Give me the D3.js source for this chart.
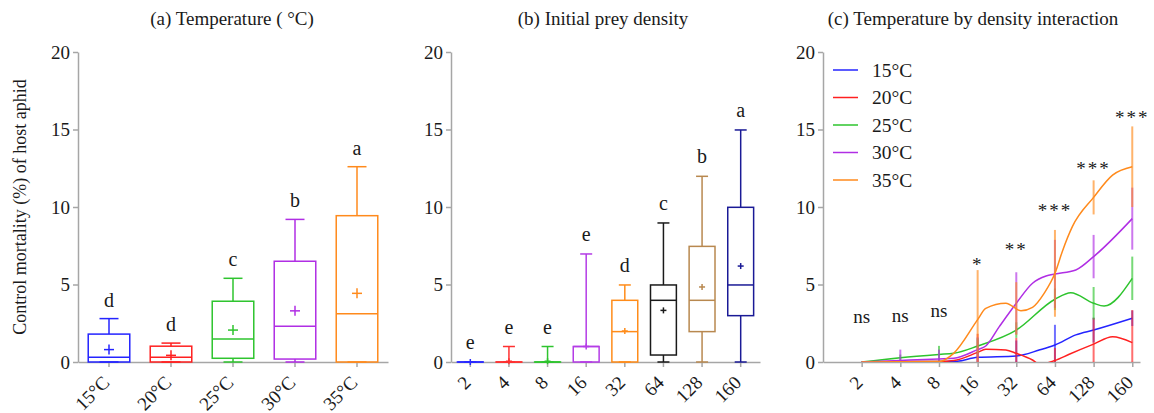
<!DOCTYPE html>
<html>
<head>
<meta charset="utf-8">
<script src="https://cdn.jsdelivr.net/npm/d3@7"></script>
<style>
  body { margin: 0; background: #fff; }
  svg text { font-family: "Times New Roman", Times, "Liberation Serif", serif; fill: #1a1a1a; }
  .axis path, .axis line { stroke: #a6a6a6; stroke-width: 1.5; }
</style>
</head>
<body>
<svg id="chart" width="1154" height="413"></svg>
<script>
const serif = '"Times New Roman", Times, "Liberation Serif", serif';

// panel (a) temperature
const tempCats = ['15°C', '20°C', '25°C', '30°C', '35°C'];
const tempColors = ['#2424ff', '#ff2020', '#2ec42e', '#b02ee4', '#ff8a1c'];
const tempLo = [0, 0, 0, 0, 0];
const tempQ1 = [0, 0, 0.24, 0.19, 0];
const tempMedian = [0.3, 0.3, 1.48, 2.3, 3.12];
const tempQ3 = [1.8, 1.02, 3.92, 6.5, 9.44];
const tempHi = [2.8, 1.22, 5.4, 9.2, 12.6];
const tempMean = [0.8, 0.43, 2.06, 3.3, 4.43];
const tempLetters = ['d', 'd', 'c', 'b', 'a'];

// panel (b) density
const densCats = ['2', '4', '8', '16', '32', '64', '128', '160'];
const densColors = ['#2a2aff', '#ff3030', '#2ec42e', '#b43ce6', '#ff8c1a', '#1a1a1a', '#b8884f', '#1a1a96'];
const densLo = [0, 0, 0, 0, 0, 0, 0, 0];
const densQ1 = [0, 0, 0, 0, 0, 0.45, 1.96, 2.99];
const densMedian = [0, 0, 0, 1, 1.96, 3.98, 3.98, 4.97];
const densQ3 = [0, 0, 0, 1, 3.98, 4.97, 7.46, 9.98];
const densHi = [0, 1, 1, 6.97, 4.97, 8.97, 11.98, 14.97];
const densMean = [0, 0.05, 0.05, 1.0, 2.0, 3.33, 4.84, 6.19];
const densLetters = ['e', 'e', 'e', 'e', 'd', 'c', 'b', 'a'];

// panel (c) interaction: [density position, mortality]
const line15 = [[0,0],[1,0.02],[2,0.04],[2.38,0.03],[3,0.3],[4,0.39],[4.59,0.77],[5,1.1],[5.54,1.75],[6,2.06],[7,2.82]];
const line20 = [[0,0],[1,0.03],[2,0.03],[2.38,0.09],[3,0.62],[3.21,0.82],[3.73,0.77],[4,0.56],[4.42,0.13],[4.6,-0.15],[5,0.1],[5.37,0.5],[6,1.15],[6.49,1.63],[7,1.25]];
const line25 = [[0,0],[1,0.28],[2,0.49],[2.38,0.56],[3,1.03],[4,2.06],[5,4.05],[5.41,4.47],[6,3.79],[6.27,3.61],[7,5.4]];
const line30 = [[0,0],[1,0.1],[2,0.2],[2.38,0.24],[3,0.8],[3.21,1.03],[3.56,2.28],[4,3.79],[4.42,5.08],[4.77,5.55],[5,5.68],[5.54,5.94],[6,6.8],[7,9.25]];
const line35 = [[0,0],[1,0.02],[2,0.03],[2.38,0.56],[3,2.73],[3.21,3.46],[3.73,3.79],[4.12,3.31],[4.42,3.53],[4.72,4.43],[5,5.72],[5.2,7.2],[5.45,8.73],[6,10.62],[6.49,12.06],[7,12.6]];
const means15 = [0, 0.02, 0.04, 0.3, 0.39, 1.1, 2.06, 2.82];
const means20 = [0, 0.03, 0.03, 0.62, 0.56, 0.1, 1.15, 1.25];
const means25 = [0, 0.28, 0.49, 1.03, 2.06, 4.05, 3.79, 5.4];
const means30 = [0, 0.1, 0.2, 0.8, 3.79, 5.68, 6.8, 9.25];
const means35 = [0, 0.02, 0.03, 2.73, 3.45, 5.72, 10.62, 12.6];
const se15 = [0, 0, 0, 0.3, 1.0, 1.3, 0.8, 0.5];
const se20 = [0, 0, 0, 1.2, 1.0, 0.8, 1.7, 2.1];
const se25 = [0, 0.2, 0.55, 0.5, 0.5, 0.7, 1.05, 1.4];
const se30 = [0, 0.7, 0.6, 0.8, 2.0, 2.2, 1.4, 2.0];
const se35 = [0, 0, 0, 3.2, 1.7, 2.8, 1.1, 2.6];
const sigLabels = ['ns', 'ns', 'ns', '*', '**', '***', '***', '***'];
const sigY = [318, 317, 312, 260, 245, 206, 164, 113];

const yTicks = [0, 5, 10, 15, 20];

const svg = d3.select('#chart');
const y = d3.scaleLinear().domain([0, 20]).range([362, 52]);

function drawYAxis(x0) {
    const g = svg.append('g')
        .classed('axis', true)
        .attr('transform', `translate(${x0}, 0)`)
        .call(d3.axisLeft(y).tickValues(yTicks).tickSize(5).tickSizeOuter(0).tickPadding(3));
    g.attr('font-family', serif);
    g.selectAll('text').style('font-family', serif).style('font-size', '19px').attr('fill', '#1a1a1a');
}

function drawXAxis(scale, cats, tickVals) {
    const axis = d3.axisBottom(scale).tickSize(5).tickSizeOuter(0).tickFormat((d, i) => cats[i] !== undefined ? cats[i] : d);
    if (tickVals) axis.tickValues(tickVals);
    const g = svg.append('g')
        .classed('axis', true)
        .attr('transform', `translate(0, ${y(0)})`)
        .call(axis);
    g.attr('font-family', serif);
    g.selectAll('text')
        .style('font-family', serif)
        .style('font-size', '19px')
        .attr('fill', '#1a1a1a')
        .attr('text-anchor', 'end')
        .attr('y', 0)
        .attr('dy', '0.35em')
        .attr('transform', 'translate(-3, 17) rotate(-45)');
}

function title(x, txt) {
    svg.append('text')
        .attr('x', x).attr('y', 25)
        .attr('text-anchor', 'middle')
        .style('font-size', '19px')
        .text(txt);
}

function drawBoxes(xScale, cats, colors, lo, q1, med, q3, hi, mean, letters, capW, plusR, letterGap) {
    const bw = xScale.bandwidth() * 0.67;
    cats.forEach((c, i) => {
        const cx = xScale(c) + xScale.bandwidth() / 2;
        const g = svg.append('g').attr('stroke', colors[i]).attr('stroke-width', 1.5).attr('fill', 'none');
        g.append('line').attr('x1', cx).attr('x2', cx).attr('y1', y(q3[i])).attr('y2', y(hi[i]));
        g.append('line').attr('x1', cx).attr('x2', cx).attr('y1', y(q1[i])).attr('y2', y(lo[i]));
        g.append('line').attr('x1', cx - capW / 2).attr('x2', cx + capW / 2).attr('y1', y(hi[i])).attr('y2', y(hi[i]));
        g.append('line').attr('x1', cx - capW / 2).attr('x2', cx + capW / 2).attr('y1', y(lo[i])).attr('y2', y(lo[i]));
        g.append('rect')
            .attr('x', cx - bw / 2).attr('width', bw)
            .attr('y', y(q3[i])).attr('height', Math.max(0.01, y(q1[i]) - y(q3[i])));
        g.append('line').attr('x1', cx - bw / 2).attr('x2', cx + bw / 2).attr('y1', y(med[i])).attr('y2', y(med[i]));
        g.append('line').attr('x1', cx - plusR).attr('x2', cx + plusR).attr('y1', y(mean[i])).attr('y2', y(mean[i]));
        g.append('line').attr('x1', cx).attr('x2', cx).attr('y1', y(mean[i]) - plusR).attr('y2', y(mean[i]) + plusR);
        svg.append('text')
            .attr('x', cx).attr('y', y(hi[i]) - letterGap)
            .attr('text-anchor', 'middle')
            .style('font-size', '20px')
            .text(letters[i]);
    });
}

// ---- panel (a)
const xA = d3.scaleBand().domain(tempCats).range([78, 388]);
drawXAxis(xA, tempCats);
drawYAxis(78);
drawBoxes(xA, tempCats, tempColors, tempLo, tempQ1, tempMedian, tempQ3, tempHi, tempMean, tempLetters, 19, 5, 12);
title(232, '(a) Temperature ( °C)');

svg.append('text')
    .attr('transform', 'translate(26, 207) rotate(-90)')
    .attr('text-anchor', 'middle')
    .style('font-size', '18px')
    .text('Control mortality (%) of host aphid');

// ---- panel (b)
const xB = d3.scaleBand().domain(densCats).range([451, 760]);
drawXAxis(xB, densCats);
drawYAxis(451);
drawBoxes(xB, densCats, densColors, densLo, densQ1, densMedian, densQ3, densHi, densMean, densLetters, 12, 3, 13);
title(603, '(b) Initial prey density');

// ---- panel (c)
const xC = d3.scaleLinear().domain([-1, 7.2]).range([823, 1140]);
drawXAxis(xC, densCats, d3.range(densCats.length));
drawYAxis(823);
title(973, '(c) Temperature by density interaction');

svg.append('clipPath').attr('id', 'clipC')
    .append('rect').attr('x', 823).attr('y', 0).attr('width', 330).attr('height', y(0));

const series = [
    {name: tempCats[0], line: line15, means: means15, se: se15, color: tempColors[0]},
    {name: tempCats[1], line: line20, means: means20, se: se20, color: tempColors[1]},
    {name: tempCats[2], line: line25, means: means25, se: se25, color: tempColors[2]},
    {name: tempCats[3], line: line30, means: means30, se: se30, color: tempColors[3]},
    {name: tempCats[4], line: line35, means: means35, se: se35, color: tempColors[4]}
];

const lineGen = d3.line()
    .x(d => xC(d[0]))
    .y(d => y(d[1]))
    .curve(d3.curveMonotoneX);

const plotC = svg.append('g').attr('clip-path', 'url(#clipC)');
series.forEach(s => {
    plotC.append('path')
        .datum(s.line)
        .attr('d', lineGen)
        .attr('fill', 'none')
        .attr('stroke', s.color)
        .attr('stroke-width', 1.5);
    plotC.selectAll(null)
        .data(s.means.map((m, i) => ({i, m, e: s.se[i]})).filter(d => d.e > 0))
        .enter()
        .append('line')
            .attr('x1', d => xC(d.i)).attr('x2', d => xC(d.i))
            .attr('y1', d => y(Math.max(0, d.m - d.e)))
            .attr('y2', d => y(d.m + d.e))
            .attr('stroke', s.color)
            .attr('stroke-width', 2)
            .attr('stroke-opacity', 0.65);
});

svg.selectAll('.sig')
    .data(sigLabels)
    .enter()
    .append('text')
        .classed('sig', true)
        .attr('x', (d, i) => xC(i))
        .attr('y', (d, i) => sigY[i] + (d === 'ns' ? 5 : 11))
        .attr('text-anchor', 'middle')
        .style('font-size', '19px')
        .style('letter-spacing', d => d === 'ns' ? '0px' : '2px')
        .text(d => d);

const legend = svg.append('g').attr('transform', 'translate(833, 70)');
series.forEach((s, i) => {
    const row = legend.append('g').attr('transform', `translate(0, ${i * 27.5})`);
    row.append('line').attr('x1', 0).attr('x2', 25).attr('y1', 0).attr('y2', 0)
        .attr('stroke', s.color).attr('stroke-width', 1.5);
    row.append('text').attr('x', 39).attr('y', 6.5).style('font-size', '19.5px').text(s.name);
});
</script>
</body>
</html>
